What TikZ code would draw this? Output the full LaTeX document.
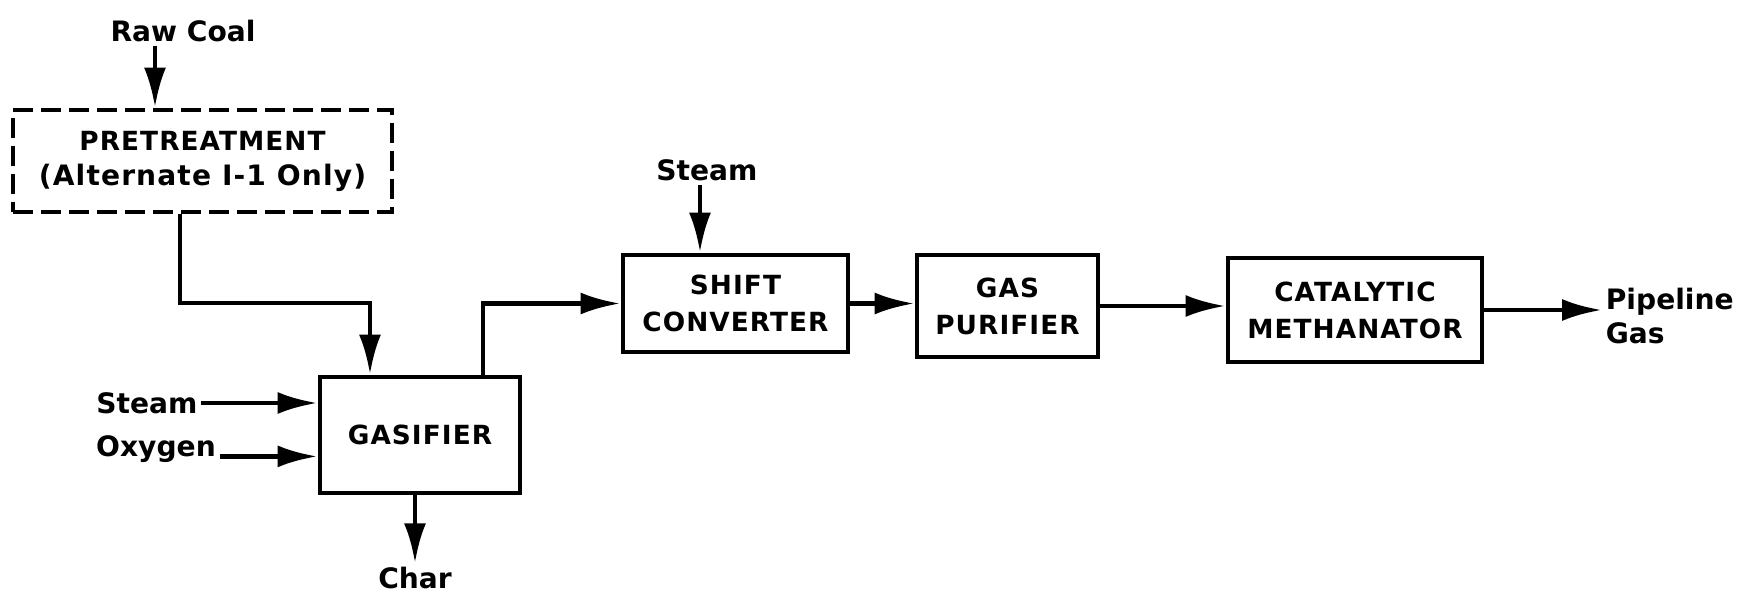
\documentclass[tikz,border=0pt]{standalone}
\usepackage{fontspec}
\setmainfont{DejaVu Sans}
\newfontfamily\unitfont[LetterSpace=4]{DejaVu Sans}
\usetikzlibrary{arrows.meta,calc}
\tikzset{
  >=Latex,
  unit/.style={draw=black,line width=2.8pt,fill=white,align=center,font=\unitfont\bfseries\fontsize{15}{21}\selectfont,inner sep=2pt},
  optunit/.style={unit,dash pattern=on 4mm off 1.6mm},
  stream/.style={font=\bfseries\fontsize{16}{19}\selectfont,inner sep=2pt},
  flow/.style={-{Latex[length=8mm,width=4.4mm]},line width=2.8pt,draw=black}
}
\begin{document}
\begin{tikzpicture}[x=1cm,y=1cm]
  \useasboundingbox (0,0) rectangle (35.12,11.88);
  \node[optunit,minimum width=7.58cm,minimum height=2.04cm] (pretreat) at (4.05,8.66) {PRETREATMENT\\[-1pt]{\fontsize{16}{19}\selectfont (Alternate I-1 Only)}};
  \node[unit,minimum width=4.0cm,minimum height=2.32cm] (gasifier) at (8.4,3.18) {GASIFIER};
  \node[unit,minimum width=4.5cm,minimum height=1.94cm] (shift) at (14.71,5.81) {SHIFT\\CONVERTER};
  \node[unit,minimum width=3.62cm,minimum height=2.04cm] (purifier) at (20.15,5.76) {GAS\\PURIFIER};
  \node[unit,minimum width=5.08cm,minimum height=2.08cm] (methanator) at (27.1,5.68) {CATALYTIC\\METHANATOR};
  \node[stream] (rawcoal) at (3.66,11.26) {Raw Coal};
  \node[stream] (steamtop) at (14.14,8.48) {Steam};
  \node[stream] (steamgas) at (2.94,3.82) {Steam};
  \node[stream] (oxygen) at (3.12,2.9) {Oxygen};
  \node[stream] (char) at (8.3,0.32) {Char};
  \node[stream,anchor=west,align=left] (pipeline) at (32.04,5.56) {Pipeline\\Gas};
  \coordinate (feedbend) at (7.4,5.82);
  \draw[flow] (rawcoal.south -| 3.1,0) -- (pretreat.north -| 3.1,0);
  \draw[flow] (pretreat.south -| 3.6,0) |- (feedbend) -- (gasifier.north -| feedbend);
  \draw[flow] (steamgas.east) -- (steamgas.east -| gasifier.west);
  \draw[flow] (oxygen.base east) -- (oxygen.base east -| gasifier.west);
  \draw[flow] (gasifier.south -| char.north) -- (char.north);
  \draw[flow] (gasifier.north -| 9.66,0) |- (shift.west);
  \draw[flow] (steamtop.south -| 14.0,0) -- (shift.north -| 14.0,0);
  \draw[flow] (shift.east) -- (shift.east -| purifier.west);
  \draw[flow] (purifier.east) -- (purifier.east -| methanator.west);
  \draw[flow] (methanator.east) -- (methanator.east -| pipeline.west);
\end{tikzpicture}
\end{document}
